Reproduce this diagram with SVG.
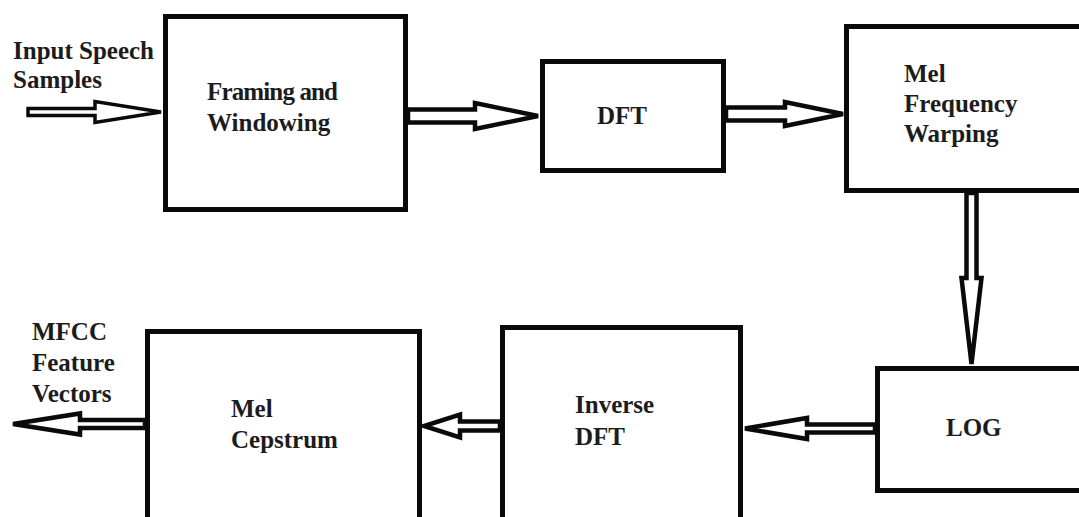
<svg xmlns="http://www.w3.org/2000/svg" width="1079" height="517" viewBox="0 0 1079 517">
<style>
.box{fill:#fff;stroke:#0a0a0a;stroke-width:5}
.arr{fill:#fff;stroke:#0a0a0a;stroke-width:4.5;stroke-linejoin:miter}
.t{font-family:"Liberation Serif","Times New Roman",serif;font-weight:bold;font-size:25px;fill:#1c1c1c}
</style>
<rect width="1079" height="517" fill="#fff"/>
<g id="framing">
<rect class="box" x="165.5" y="16.5" width="240" height="193"/>
<text class="t" x="207" y="100" textLength="131">Framing and</text>
<text class="t" x="207" y="131">Windowing</text>
</g>
<g id="dft">
<rect class="box" x="542.5" y="61.5" width="181" height="109"/>
<text class="t" x="597" y="124">DFT</text>
</g>
<g id="melfreq">
<rect class="box" x="846.5" y="26.5" width="240" height="164"/>
<text class="t" x="904" y="82">Mel</text>
<text class="t" x="904" y="112">Frequency</text>
<text class="t" x="904" y="142">Warping</text>
</g>
<g id="log">
<rect class="box" x="877.5" y="368.5" width="210" height="122"/>
<text class="t" x="946" y="436">LOG</text>
</g>
<g id="inversedft">
<rect class="box" x="502.5" y="327.5" width="238" height="200"/>
<text class="t" x="575" y="413">Inverse</text>
<text class="t" x="575" y="445">DFT</text>
</g>
<g id="melcepstrum">
<rect class="box" x="147.5" y="331.5" width="272" height="200"/>
<text class="t" x="231" y="417">Mel</text>
<text class="t" x="231" y="448">Cepstrum</text>
</g>
<g id="input-label">
<text class="t" x="13" y="59">Input Speech</text>
<text class="t" x="13" y="88">Samples</text>
</g>
<g id="output-label">
<text class="t" x="32" y="340">MFCC</text>
<text class="t" x="32" y="371">Feature</text>
<text class="t" x="32" y="402">Vectors</text>
</g>
<g id="connectors">
<polygon class="arr" style="stroke-width:3.5" points="28,108.5 95,108.5 95,101.5 161,112 95,122.5 95,115.5 28,115.5"/>
<polygon class="arr" points="408,109.5 475,109.5 475,103 538,116 475,129 475,122.5 408,122.5"/>
<polygon class="arr" points="726,107.5 785,107.5 785,102 843,114 785,126 785,120.5 726,120.5"/>
<polygon class="arr" points="966.5,193 966.5,278 961.5,278 971.5,364 981.5,278 976.5,278 976.5,193"/>
<polygon class="arr" points="875,424.5 807,424.5 807,418 745,428.5 807,439 807,432.5 875,432.5"/>
<polygon class="arr" points="500,421.5 460,421.5 460,414.5 424,426 460,437.5 460,430.5 500,430.5"/>
<polygon class="arr" points="145,420 80,420 80,413.5 13,424 80,434.5 80,428 145,428"/>
</g>
</svg>
